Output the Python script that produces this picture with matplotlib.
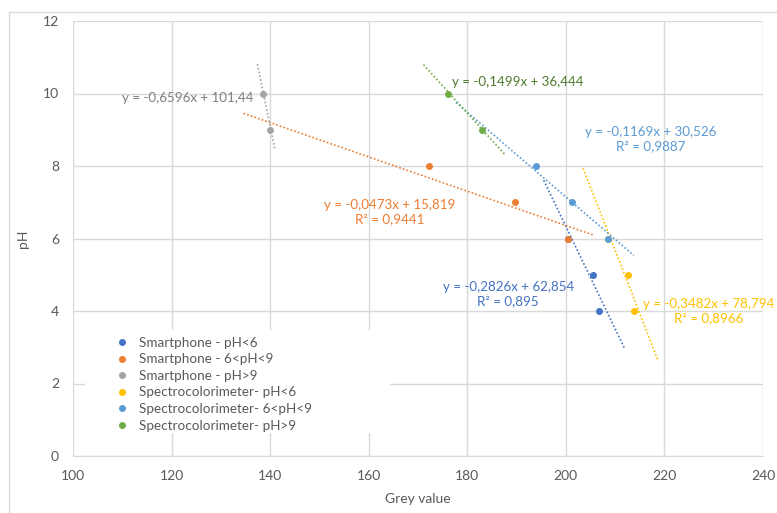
import matplotlib
matplotlib.use("Agg")
import matplotlib.pyplot as plt
from matplotlib.lines import Line2D
from matplotlib.patches import Rectangle
import numpy as np

# series data (grey value, pH)
sp_lo_x = [200.5, 205.6, 206.8]
sp_lo_y = [6, 5, 4]
sp_mid_x = [172.3, 189.6, 200.5]
sp_mid_y = [8, 7, 6]
sp_hi_x = [138.5, 139.9]
sp_hi_y = [10, 9]
sc_lo_x = [208.6, 212.6, 213.8]
sc_lo_y = [6, 5, 4]
sc_mid_x = [193.9, 201.2, 208.6]
sc_mid_y = [8, 7, 6]
sc_hi_x = [176.1, 182.9]
sc_hi_y = [10, 9]

names = ["Smartphone - pH<6", "Smartphone - 6<pH<9", "Smartphone - pH>9",
         "Spectrocolorimeter- pH<6", "Spectrocolorimeter- 6<pH<9", "Spectrocolorimeter- pH>9"]
xs = [sp_lo_x, sp_mid_x, sp_hi_x, sc_lo_x, sc_mid_x, sc_hi_x]
ys = [sp_lo_y, sp_mid_y, sp_hi_y, sc_lo_y, sc_mid_y, sc_hi_y]

# linear trendlines: slope, intercept, x range drawn
slopes = [-0.2826, -0.0473, -0.6596, -0.3482, -0.1169, -0.1499]
intercepts = [62.854, 15.819, 101.44, 78.794, 30.526, 36.444]
trend_x0 = [195.5, 134.6, 137.4, 203.5, 177.7, 171.1]
trend_x1 = [211.9, 205.8, 141.0, 218.7, 213.8, 187.8]
r2 = ["0,895", "0,9441", None, "0,8966", "0,9887", None]

colors = ["#4472C4", "#ED7D31", "#A5A5A5", "#FFC000", "#5B9BD5", "#70AD47"]
label_colors = ["#4472C4", "#ED7D31", "#7F7F7F", "#FFC000", "#5B9BD5", "#4E7A2E"]
# equation label placement (data coords) and alignment
label_pos = [(188.3, 4.46, "center"), (164.3, 6.73, "center"), (136.5, 9.88, "right"),
             (228.9, 4.0, "center"), (217.3, 8.74, "center"), (176.9, 10.32, "left")]

plt.rcParams["font.family"] = ["Lato", "DejaVu Sans"]

fig = plt.figure(figsize=(7.77, 5.13), dpi=100)
ax = fig.add_axes([73/777, 1 - 456/513, 690/777, 435/513])

grid_c = "#D9D9D9"
for i in range(6):
    tx = np.array([trend_x0[i], trend_x1[i]])
    ax.plot(tx, slopes[i]*tx + intercepts[i], color=colors[i], lw=1.2,
            linestyle=(0, (1, 1.3)), zorder=3)
for i in range(6):
    ax.plot(xs[i], ys[i], "o", color=colors[i], markersize=4, label=names[i], zorder=4)

for i in range(6):
    eq = f"y = {slopes[i]:.4f}x + {intercepts[i]:g}".replace(".", ",")
    if r2[i]:
        eq += f"\nR² = {r2[i]}"
    lx, ly, ha = label_pos[i]
    ax.text(lx, ly, eq, color=label_colors[i], fontsize=9.6, ha=ha, va="center",
            linespacing=1.25, zorder=5)

ax.set_xlim(100, 240)
ax.set_ylim(0, 12)
ax.set_xticks(np.arange(100, 241, 20))
ax.set_yticks(np.arange(0, 13, 2))
ax.grid(True, color=grid_c, lw=1)
ax.set_axisbelow(True)
for s in ax.spines.values():
    s.set_visible(False)
ax.spines["bottom"].set_visible(True)
ax.spines["bottom"].set_color(grid_c)
ax.tick_params(length=0, labelsize=10, labelcolor="#595959", pad=10)
ax.set_xlabel("Grey value", fontsize=10, color="#595959", labelpad=8)
ax.set_ylabel("pH", fontsize=10, color="#595959", labelpad=10)

# legend background box hides the gridlines behind it
ax.add_patch(Rectangle((0.017, 0.053), 0.442, 0.237, transform=ax.transAxes,
                       facecolor="white", edgecolor="none", zorder=1))
leg = ax.legend(loc="upper left", bbox_to_anchor=(0.0434, 0.302), fontsize=9.7,
                frameon=False, labelspacing=0.34, handletextpad=0.76,
                borderpad=0.4, handlelength=1.0)
for t in leg.get_texts():
    t.set_color("#595959")

# outer chart border
fig.add_artist(Line2D([9/777, 1], [1 - 12/513, 1 - 12/513], color=grid_c, lw=1))
fig.add_artist(Line2D([9/777, 9/777], [0, 1 - 12/513], color=grid_c, lw=1))

fig.savefig("out.png", dpi=100, facecolor="white")
